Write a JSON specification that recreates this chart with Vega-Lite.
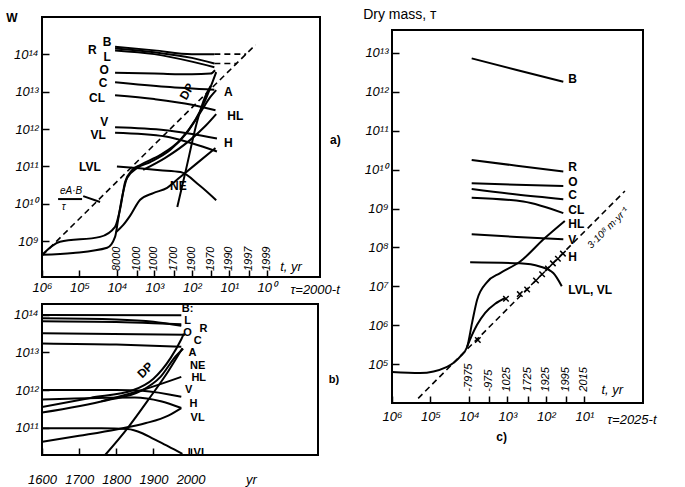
{
"$schema": "https://vega.github.io/schema/vega-lite/v6.json",
"autosize": {"type": "none"},
"padding": {"left": 42, "top": 17, "right": 643, "bottom": 470},
"background": "white",
"datasets": {
"a_line": [
{"s":"B","t":11220,"w":1.585e14},{"s":"B","t":1000,"w":1.259e14},{"s":"B","t":100,"w":1e14},{"s":"B","t":25.1,"w":1e14},
{"s":"R","t":11220,"w":1.413e14},{"s":"R","t":1000,"w":1.122e14},{"s":"R","t":100,"w":7.94e13},{"s":"R","t":25.1,"w":5.62e13},
{"s":"L","t":11220,"w":1.259e14},{"s":"L","t":1000,"w":1e14},{"s":"L","t":100,"w":6.31e13},{"s":"L","t":25.1,"w":4.47e13},
{"s":"O","t":11220,"w":3.16e13},{"s":"O","t":1000,"w":3.02e13},{"s":"O","t":100,"w":2.88e13},{"s":"O","t":31.6,"w":3.02e13},{"s":"O","t":24,"w":3.72e13},
{"s":"C","t":11220,"w":1.778e13},{"s":"C","t":501,"w":1.349e13},{"s":"C","t":25.1,"w":1.122e13},
{"s":"CL","t":11220,"w":7.94e12},{"s":"CL","t":1000,"w":6.31e12},{"s":"CL","t":100,"w":4.47e12},{"s":"CL","t":23.4,"w":3.16e12},
{"s":"V","t":11220,"w":1.122e12},{"s":"V","t":501,"w":9.33e11},{"s":"V","t":21.4,"w":5.62e11},
{"s":"VL","t":11220,"w":7.94e11},{"s":"VL","t":501,"w":6.31e11},{"s":"VL","t":100,"w":4.17e11},{"s":"VL","t":21.4,"w":2.51e11},
{"s":"LVL","t":10000,"w":1e11},{"s":"LVL","t":2512,"w":8.91e10},{"s":"LVL","t":708,"w":7.94e10},{"s":"LVL","t":200,"w":7.08e10},{"s":"LVL","t":63.1,"w":3.16e10},{"s":"LVL","t":22.4,"w":1.259e10},
{"s":"DP","t":1000000,"w":4.37e8},{"s":"DP","t":331000,"w":9.77e8},{"s":"DP","t":28200,"w":1.318e9},{"s":"DP","t":11220,"w":2.45e9},{"s":"DP","t":8130,"w":7.76e9},{"s":"DP","t":6030,"w":3.89e10},{"s":"DP","t":3890,"w":8.13e10},{"s":"DP","t":2400,"w":1.096e11},{"s":"DP","t":692,"w":2.04e11},{"s":"DP","t":204,"w":5.13e11},{"s":"DP","t":81.3,"w":1.738e12},{"s":"DP","t":43.7,"w":5.89e12},{"s":"DP","t":28.2,"w":1.778e13},{"s":"DP","t":22.4,"w":3.31e13},
{"s":"A","t":1000000,"w":4.37e8},{"s":"A","t":147900,"w":4.9e8},{"s":"A","t":18200,"w":6.76e8},{"s":"A","t":11220,"w":1.318e9},{"s":"A","t":9330,"w":3.72e9},{"s":"A","t":7240,"w":1.549e10},{"s":"A","t":5370,"w":4.9e10},{"s":"A","t":2880,"w":9.12e10},{"s":"A","t":1288,"w":1.318e11},{"s":"A","t":380,"w":2.75e11},{"s":"A","t":132,"w":8.32e11},{"s":"A","t":60.3,"w":2.69e12},{"s":"A","t":32.4,"w":7.08e12},{"s":"A","t":22.4,"w":1.096e13},
{"s":"H","t":10470,"w":1.778e9},{"s":"H","t":6760,"w":2.75e9},{"s":"H","t":4470,"w":4.79e9},{"s":"H","t":2400,"w":1.288e10},{"s":"H","t":1072,"w":1.95e10},{"s":"H","t":457,"w":2.69e10},{"s":"H","t":204,"w":5.25e10},{"s":"H","t":72.4,"w":1.23e11},{"s":"H","t":23.4,"w":3.09e11},
{"s":"HL","t":1995,"w":8.13e10},{"s":"HL","t":513,"w":1.7e11},{"s":"HL","t":110,"w":5.13e11},{"s":"HL","t":43.7,"w":1.2e12},{"s":"HL","t":22.4,"w":2.51e12},
{"s":"NE","t":245,"w":8.32e9},{"s":"NE","t":141,"w":8.91e10},{"s":"NE","t":72.4,"w":1.585e12},{"s":"NE","t":44.7,"w":7.08e12},{"s":"NE","t":31.6,"w":1.413e13},
{"s":"bar","t":372000,"w":1.349e10},{"s":"bar","t":85100,"w":1.349e10},
{"s":"lead","t":79400,"w":1.622e10},{"s":"lead","t":28200,"w":1.122e10}
],
"a_dash": [
{"s":"Bd","t":25.1,"w":1e14},{"s":"Bd","t":3.55,"w":1e14},
{"s":"Rd","t":25.1,"w":5.62e13},{"s":"Rd","t":6.31,"w":5.62e13},
{"s":"E","t":1000000,"w":4.17e8},{"s":"E","t":2,"w":1.778e14}
],
"a_txt": [
{"lab":"W","t":6310000,"w":9.12e14},
{"lab":"B","t":18200,"w":2.09e14},{"lab":"R","t":45700,"w":1.288e14},{"lab":"L","t":18200,"w":8.32e13},
{"lab":"O","t":21900,"w":3.72e13},{"lab":"C","t":23400,"w":1.698e13},{"lab":"CL","t":33900,"w":6.76e12},
{"lab":"V","t":21900,"w":1.549e12},{"lab":"VL","t":31600,"w":6.92e11},{"lab":"LVL","t":52500,"w":9.77e10},
{"lab":"A","t":10.7,"w":9.77e12},{"lab":"HL","t":6.92,"w":2.24e12},{"lab":"H","t":10.7,"w":4.27e11},
{"lab":"NE","t":229,"w":3.02e10},{"lab":"a)","t":0.0148,"w":5.13e11}
],
"a_dp": [{"lab":"DP","t":135,"w":1e13}],
"a_rot": [
{"lab":"8000","t":10000,"w":1.62e8},{"lab":"1000","t":3000,"w":1.62e8},{"lab":"1000","t":1000,"w":1.62e8},
{"lab":"1700","t":300,"w":1.62e8},{"lab":"1900","t":100,"w":1.62e8},{"lab":"1970","t":30,"w":1.62e8},
{"lab":"1990","t":10,"w":1.62e8},{"lab":"1997","t":3,"w":1.62e8},{"lab":"1999","t":1,"w":1.62e8}
],
"a_it": [{"lab":"t, yr","t":0.437,"w":2.09e8},{"lab":"τ=2000-t","t":0.234,"w":5.13e7}],
"a_frac": [{"lab":"eA·B","t":331000,"w":2.24e10},{"lab":"τ","t":295000,"w":8.32e9}],
"b_line": [
{"s":"B","yr":1600,"w":1e14},{"s":"B","yr":1975,"w":9.77e13},
{"s":"L","yr":1600,"w":8.13e13},{"s":"L","yr":1800,"w":7.59e13},{"s":"L","yr":1900,"w":6.61e13},{"s":"L","yr":1975,"w":5.13e13},
{"s":"R","yr":1600,"w":6.76e13},{"s":"R","yr":1800,"w":6.46e13},{"s":"R","yr":1900,"w":6.03e13},{"s":"R","yr":1975,"w":5.62e13},
{"s":"O","yr":1600,"w":3.24e13},{"s":"O","yr":1985,"w":2.95e13},
{"s":"C","yr":1600,"w":1.738e13},{"s":"C","yr":1800,"w":1.622e13},{"s":"C","yr":1975,"w":1.413e13},
{"s":"DP","yr":1600,"w":3.55e11},{"s":"DP","yr":1730,"w":6.17e11},{"s":"DP","yr":1846,"w":1e12},{"s":"DP","yr":1900,"w":2e12},{"s":"DP","yr":1946,"w":7.08e12},{"s":"DP","yr":1975,"w":2.24e13},{"s":"DP","yr":1982,"w":3.16e13},
{"s":"A","yr":1600,"w":2.51e11},{"s":"A","yr":1775,"w":5.37e11},{"s":"A","yr":1865,"w":9.33e11},{"s":"A","yr":1919,"w":2.24e12},{"s":"A","yr":1960,"w":7.94e12},{"s":"A","yr":1980,"w":1.259e13},
{"s":"V","yr":1600,"w":1e12},{"s":"V","yr":1800,"w":1e12},{"s":"V","yr":1870,"w":9.55e11},{"s":"V","yr":1975,"w":6.61e11},
{"s":"VL","yr":1600,"w":5.62e11},{"s":"VL","yr":1750,"w":6.17e11},{"s":"VL","yr":1850,"w":6.31e11},{"s":"VL","yr":1920,"w":5.01e11},{"s":"VL","yr":1975,"w":3.31e11},
{"s":"HL","yr":1760,"w":5.01e11},{"s":"HL","yr":1870,"w":1e12},{"s":"HL","yr":1975,"w":2.24e12},
{"s":"H","yr":1600,"w":4.17e10},{"s":"H","yr":1700,"w":6.03e10},{"s":"H","yr":1800,"w":8.91e10},{"s":"H","yr":1880,"w":1.318e11},{"s":"H","yr":1940,"w":2.09e11},{"s":"H","yr":1975,"w":3.31e11},
{"s":"LVL","yr":1600,"w":9.55e10},{"s":"LVL","yr":1760,"w":9.55e10},{"s":"LVL","yr":1830,"w":9.12e10},{"s":"LVL","yr":1870,"w":7.08e10},{"s":"LVL","yr":1900,"w":5.01e10},{"s":"LVL","yr":1940,"w":3.16e10},{"s":"LVL","yr":1978,"w":2e10},
{"s":"NE","yr":1770,"w":1.862e10},{"s":"NE","yr":1830,"w":9.55e10},{"s":"NE","yr":1892,"w":6.61e11},{"s":"NE","yr":1940,"w":3.16e12},{"s":"NE","yr":1978,"w":1.288e13}
],
"b_txt": [
{"lab":"B:","yr":1992,"w":1.445e14},{"lab":"L","yr":1992,"w":6.92e13},{"lab":"R","yr":2035,"w":4.27e13},
{"lab":"O","yr":1992,"w":3.31e13},{"lab":"C","yr":2019,"w":2.04e13},{"lab":"A","yr":2005,"w":9.77e12},
{"lab":"NE","yr":2019,"w":4.37e12},{"lab":"HL","yr":2022,"w":2.04e12},{"lab":"V","yr":1995,"w":1e12},
{"lab":"H","yr":2008,"w":4.27e11},{"lab":"VL","yr":2019,"w":1.778e11},{"lab":"LVL","yr":2019,"w":2.09e10},
{"lab":"b)","yr":2386,"w":1.862e12}
],
"b_dp": [{"lab":"DP","yr":1878,"w":3.39e12}],
"b_it": [{"lab":"yr","yr":2149,"w":3.98e9}],
"c_line": [
{"s":"B","t":8510,"w":7.24e12},{"s":"B","t":575,"w":3.63e12},{"s":"B","t":35.5,"w":1.82e12},
{"s":"R","t":8510,"w":1.778e10},{"s":"R","t":575,"w":1.259e10},{"s":"R","t":35.5,"w":8.91e9},
{"s":"O","t":8510,"w":4.47e9},{"s":"O","t":575,"w":4.07e9},{"s":"O","t":35.5,"w":3.8e9},
{"s":"C","t":8510,"w":3.16e9},{"s":"C","t":575,"w":2.29e9},{"s":"C","t":35.5,"w":1.738e9},
{"s":"CL","t":8510,"w":1.905e9},{"s":"CL","t":389,"w":1.514e9},{"s":"CL","t":35.5,"w":7.59e8},
{"s":"V","t":8510,"w":2.19e8},{"s":"V","t":575,"w":1.862e8},{"s":"V","t":35.5,"w":1.622e8},
{"s":"LVL","t":9330,"w":4.17e7},{"s":"LVL","t":479,"w":3.89e7},{"s":"LVL","t":145,"w":3.24e7},{"s":"LVL","t":64.6,"w":2.19e7},{"s":"LVL","t":38.9,"w":1e7},
{"s":"HL","t":1000000,"w":6.31e4},{"s":"HL","t":186200,"w":5.89e4},{"s":"HL","t":37200,"w":8.51e4},{"s":"HL","t":16980,"w":1.549e5},{"s":"HL","t":11220,"w":2.75e5},{"s":"HL","t":8320,"w":1.148e6},{"s":"HL","t":6170,"w":4.47e6},{"s":"HL","t":3390,"w":1.288e7},{"s":"HL","t":1549,"w":2.19e7},{"s":"HL","t":479,"w":4.27e7},{"s":"HL","t":107,"w":1.738e8},{"s":"HL","t":32.4,"w":4.79e8},
{"s":"H","t":11220,"w":2.75e5},{"s":"H","t":8320,"w":5.62e5},{"s":"H","t":6170,"w":1.023e6},{"s":"H","t":3800,"w":2.09e6},{"s":"H","t":2090,"w":3.55e6},{"s":"H","t":1148,"w":5.01e6}
],
"c_dash": [{"s":"E","t":209000,"w":1.318e4},{"s":"E","t":0.891,"w":2.82e9}],
"c_pts": [
{"t":5890,"w":4.17e5},{"t":1096,"w":4.79e6},{"t":479,"w":6.31e6},{"t":309,"w":8.32e6},{"t":182,"w":1.413e7},
{"t":126,"w":2.04e7},{"t":89.1,"w":2.88e7},{"t":66.1,"w":3.89e7},{"t":49,"w":5.13e7},{"t":36.3,"w":6.92e7}
],
"c_txt": [
{"lab":"B","t":26.3,"w":2.09e12},{"lab":"R","t":26.3,"w":1.202e10},{"lab":"O","t":26.3,"w":4.9e9},
{"lab":"C","t":26.3,"w":2.24e9},{"lab":"CL","t":26.3,"w":9.12e8},{"lab":"HL","t":26.3,"w":3.98e8},
{"lab":"V","t":26.3,"w":1.585e8},{"lab":"H","t":26.3,"w":5.75e7},{"lab":"LVL, VL","t":26.3,"w":8.13e6},
{"lab":"c)","t":1950,"w":1.349e3}
],
"c_rot": [
{"lab":"-7975","t":10000,"w":1.95e4},{"lab":"-975","t":3000,"w":1.95e4},{"lab":"1025","t":1000,"w":1.95e4},
{"lab":"1725","t":300,"w":1.95e4},{"lab":"1925","t":100,"w":1.95e4},{"lab":"1995","t":30,"w":1.95e4},{"lab":"2015","t":10,"w":1.95e4}
],
"c_it": [{"lab":"t, yr","t":3.63,"w":2.19e4},{"lab":"τ=2025-t","t":2.57,"w":3720}],
"c_rate": [{"lab":"3·10⁸ т·yr⁻¹","t":2.45,"w":3.16e8}],
"c_title": [{"lab":"Dry mass, т","t":5620000,"w":9.55e13}]
},
"spacing": 350,
"bounds": "flush",
"hconcat": [
{
"spacing": 27,
"bounds": "flush",
"vconcat": [
{
"width": 278, "height": 260,
"encoding": {
"x": {"field":"t","type":"quantitative","title":null,"scale":{"type":"log","domain":[0.038,1000000],"reverse":true,"nice":false},
"axis":{"values":[1000000,100000,10000,3000,1000,300,100,30,10,3,1],"labelExpr":"abs(log(datum.value)/LN10-round(log(datum.value)/LN10))<0.01 ? '10' + ['⁰','¹','²','³','⁴','⁵','⁶'][round(log(datum.value)/LN10)] : ''","tickSize":-7,"labelPadding":11,"labelFlush":false,"labelOverlap":false}},
"y": {"field":"w","type":"quantitative","title":null,"scale":{"type":"log","domain":[1.12e8,9.8e14],"nice":false},
"axis":{"values":[1e9,1e10,1e11,1e12,1e13,1e14],"labelExpr":"'10' + ['⁰','¹','²','³','⁴','⁵','⁶','⁷','⁸','⁹','¹⁰','¹¹','¹²','¹³','¹⁴','¹⁵'][round(log(datum.value)/LN10)]","tickSize":-7,"labelPadding":11,"labelFlush":false,"labelOverlap":false}}
},
"layer": [
{"data":{"name":"a_line"},"mark":{"type":"line","clip":true,"color":"black","strokeWidth":2,"interpolate":"monotone"},"encoding":{"detail":{"field":"s","type":"nominal"},"order":{"field":"t","type":"quantitative","sort":"descending"}}},
{"data":{"name":"a_dash"},"mark":{"type":"line","clip":true,"color":"black","strokeWidth":1.6,"strokeDash":[6,4]},"encoding":{"detail":{"field":"s","type":"nominal"}}},
{"data":{"name":"a_txt"},"mark":{"type":"text","font":"Liberation Sans","fontSize":12,"fontWeight":"bold","color":"black"},"encoding":{"text":{"field":"lab","type":"nominal"}}},
{"data":{"name":"a_dp"},"mark":{"type":"text","font":"Liberation Sans","fontSize":12,"fontWeight":"bold","angle":300,"color":"black"},"encoding":{"text":{"field":"lab","type":"nominal"}}},
{"data":{"name":"a_rot"},"mark":{"type":"text","font":"Liberation Sans Narrow, Liberation Sans","fontSize":11,"fontStyle":"italic","angle":270,"align":"left","baseline":"middle","color":"black"},"encoding":{"text":{"field":"lab","type":"nominal"}}},
{"data":{"name":"a_it"},"mark":{"type":"text","font":"Liberation Sans","fontSize":13,"fontStyle":"italic","align":"left","color":"black"},"encoding":{"text":{"field":"lab","type":"nominal"}}},
{"data":{"name":"a_frac"},"mark":{"type":"text","font":"Liberation Sans","fontSize":10,"fontStyle":"italic","align":"left","color":"black"},"encoding":{"text":{"field":"lab","type":"nominal"}}}
]
},
{
"width": 276, "height": 151,
"encoding": {
"x": {"field":"yr","type":"quantitative","title":null,"scale":{"domain":[1600,2343],"nice":false,"zero":false},
"axis":{"values":[1600,1700,1800,1900,2000],"format":"d","tickSize":-7,"labelPadding":25,"labelFlush":false,"labelOverlap":false}},
"y": {"field":"w","type":"quantitative","title":null,"scale":{"type":"log","domain":[1.862e10,1.95e14],"nice":false},
"axis":{"values":[1e11,1e12,1e13,1e14],"labelExpr":"'10' + ['⁰','¹','²','³','⁴','⁵','⁶','⁷','⁸','⁹','¹⁰','¹¹','¹²','¹³','¹⁴','¹⁵'][round(log(datum.value)/LN10)]","tickSize":-7,"labelPadding":11,"labelFlush":false,"labelOverlap":false}}
},
"layer": [
{"data":{"name":"b_line"},"mark":{"type":"line","clip":true,"color":"black","strokeWidth":2,"interpolate":"monotone"},"encoding":{"detail":{"field":"s","type":"nominal"}}},
{"data":{"name":"b_txt"},"mark":{"type":"text","font":"Liberation Sans","fontSize":11,"fontWeight":"bold","color":"black"},"encoding":{"text":{"field":"lab","type":"nominal"}}},
{"data":{"name":"b_dp"},"mark":{"type":"text","font":"Liberation Sans","fontSize":12,"fontWeight":"bold","angle":315,"color":"black"},"encoding":{"text":{"field":"lab","type":"nominal"}}},
{"data":{"name":"b_it"},"mark":{"type":"text","font":"Liberation Sans","fontSize":13,"fontStyle":"italic","align":"left","color":"black"},"encoding":{"text":{"field":"lab","type":"nominal"}}}
]
}
]
},
{
"spacing": 0,
"bounds": "flush",
"vconcat": [
{"width": 251, "height": 13, "data": {"values": [{"k": 1}]}, "mark": {"type": "point", "opacity": 0}, "view": {"stroke": null}},
{
"width": 251, "height": 373,
"encoding": {
"x": {"field":"t","type":"quantitative","title":null,"scale":{"type":"log","domain":[0.302,1000000],"reverse":true,"nice":false},
"axis":{"values":[1000000,100000,10000,3000,1000,300,100,30,10],"labelExpr":"abs(log(datum.value)/LN10-round(log(datum.value)/LN10))<0.01 ? '10' + ['⁰','¹','²','³','⁴','⁵','⁶'][round(log(datum.value)/LN10)] : ''","tickSize":-7,"labelPadding":14,"labelFlush":false,"labelOverlap":false}},
"y": {"field":"w","type":"quantitative","title":null,"scale":{"type":"log","domain":[10000,3.89e13],"nice":false},
"axis":{"values":[1e5,1e6,1e7,1e8,1e9,1e10,1e11,1e12,1e13],"labelExpr":"'10' + ['⁰','¹','²','³','⁴','⁵','⁶','⁷','⁸','⁹','¹⁰','¹¹','¹²','¹³','¹⁴','¹⁵'][round(log(datum.value)/LN10)]","tickSize":-7,"labelPadding":11,"labelFlush":false,"labelOverlap":false}}
},
"layer": [
{"data":{"name":"c_line"},"mark":{"type":"line","clip":true,"color":"black","strokeWidth":2,"interpolate":"monotone"},"encoding":{"detail":{"field":"s","type":"nominal"},"order":{"field":"t","type":"quantitative","sort":"descending"}}},
{"data":{"name":"c_dash"},"mark":{"type":"line","clip":true,"color":"black","strokeWidth":1.6,"strokeDash":[6,4]},"encoding":{"detail":{"field":"s","type":"nominal"}}},
{"data":{"name":"c_pts"},"mark":{"type":"point","shape":"M-1,-1L1,1M-1,1L1,-1","filled":false,"color":"black","strokeWidth":1.5,"size":30,"opacity":1}},
{"data":{"name":"c_txt"},"mark":{"type":"text","font":"Liberation Sans","fontSize":12,"fontWeight":"bold","align":"left","color":"black"},"encoding":{"text":{"field":"lab","type":"nominal"}}},
{"data":{"name":"c_rot"},"mark":{"type":"text","font":"Liberation Sans Narrow, Liberation Sans","fontSize":11,"fontStyle":"italic","angle":270,"align":"left","baseline":"middle","color":"black"},"encoding":{"text":{"field":"lab","type":"nominal"}}},
{"data":{"name":"c_it"},"mark":{"type":"text","font":"Liberation Sans","fontSize":13,"fontStyle":"italic","align":"left","color":"black"},"encoding":{"text":{"field":"lab","type":"nominal"}}},
{"data":{"name":"c_rate"},"mark":{"type":"text","font":"Liberation Sans","fontSize":10,"fontStyle":"italic","angle":315,"color":"black"},"encoding":{"text":{"field":"lab","type":"nominal"}}},
{"data":{"name":"c_title"},"mark":{"type":"text","font":"Liberation Sans","fontSize":14,"align":"left","color":"black"},"encoding":{"text":{"field":"lab","type":"nominal"}}}
]
}
]
}
],
"config": {
"view": {"stroke": "black", "strokeWidth": 2},
"axis": {"domain": false, "grid": false, "tickColor": "black", "tickWidth": 1.5, "labelColor": "black", "labelFont": "Liberation Sans", "labelFontStyle": "italic", "labelFontSize": 13}
}
}
